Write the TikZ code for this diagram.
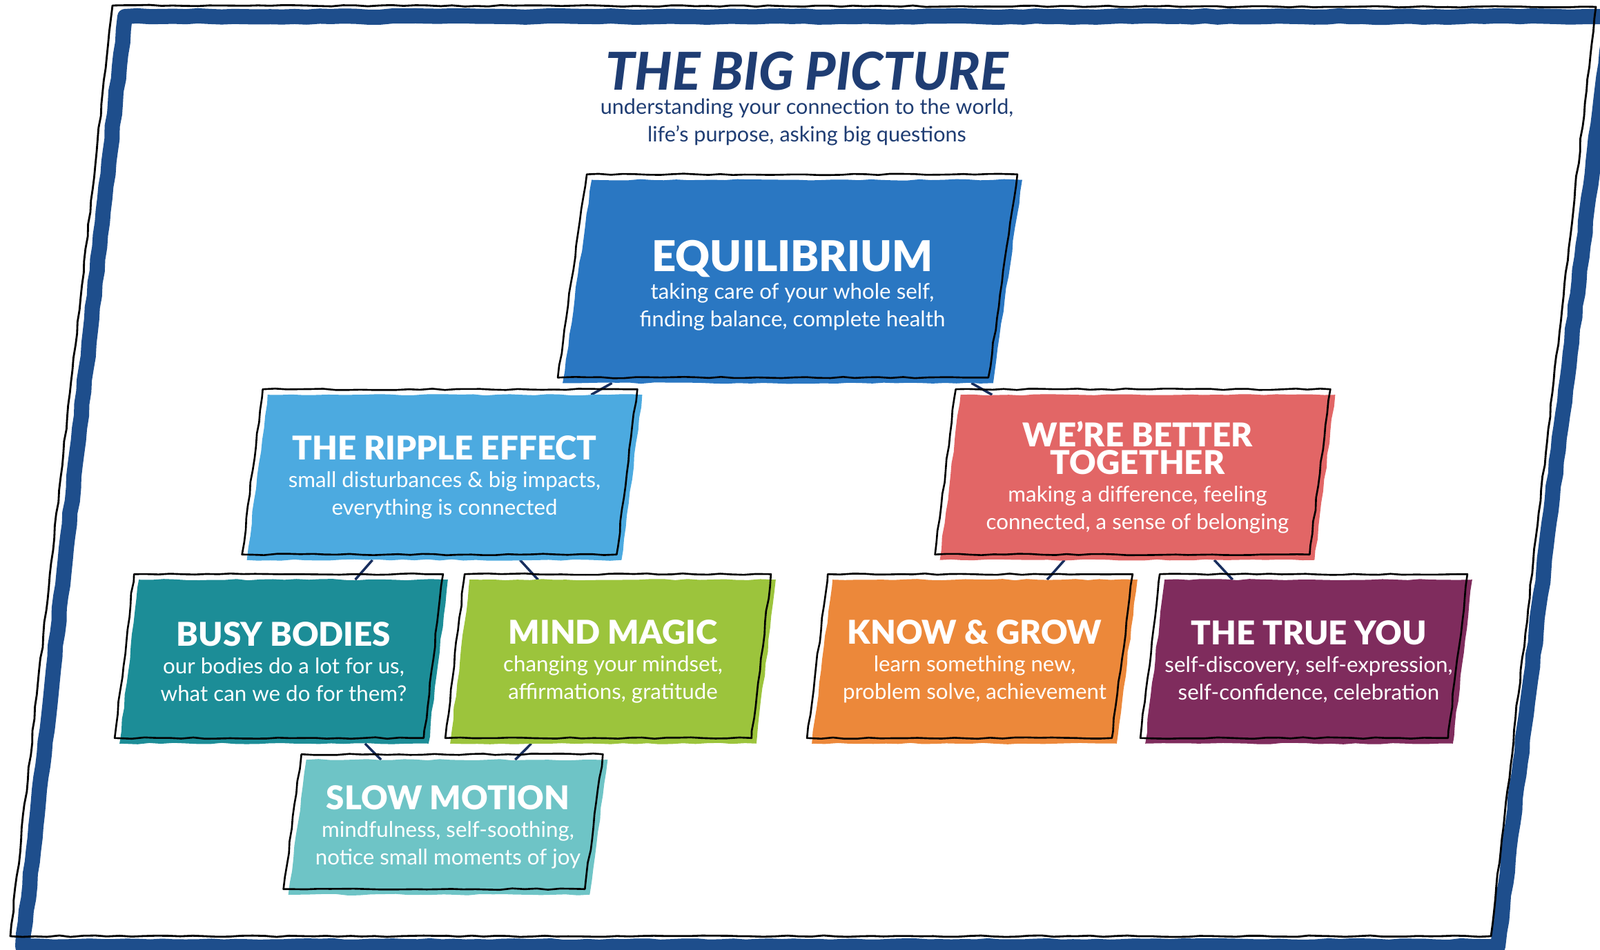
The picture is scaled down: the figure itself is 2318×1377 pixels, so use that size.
\documentclass[tikz,border=0pt]{standalone}
\usepackage{fontspec}
\setmainfont{Lato}
\newfontfamily\heavyfont{Lato Black}
\usetikzlibrary{positioning,backgrounds,decorations.pathmorphing}

\definecolor{framebl}{RGB}{30,78,140}
\definecolor{titlenavy}{RGB}{31,61,115}
\definecolor{linknavy}{RGB}{24,46,94}
\definecolor{eqblue}{RGB}{42,119,194}
\definecolor{ripblue}{RGB}{76,170,224}
\definecolor{wbtred}{RGB}{226,102,102}
\definecolor{bbteal}{RGB}{28,141,151}
\definecolor{mmgreen}{RGB}{156,196,60}
\definecolor{kgorange}{RGB}{236,136,58}
\definecolor{typlum}{RGB}{127,44,93}
\definecolor{smteal}{RGB}{110,196,198}

\newcommand{\headbig}{\fontsize{17.5}{18}\selectfont\heavyfont\rule{0pt}{16pt}}
\newcommand{\headsm}{\fontsize{13.5}{11.4}\selectfont\heavyfont}

\tikzset{
  rough/.style={decorate, decoration={random steps, segment length=5pt, amplitude=0.3pt}},
  card/.style={rectangle, inner sep=0pt, text=white, align=center, font=\fontsize{8.9}{11.4}\selectfont},
  inkline/.style={draw=black, line width=0.75pt, line join=round, rough},
  link/.style={draw=linknavy, line width=1pt}
}

\begin{document}
\begin{tikzpicture}[x=0.01cm, y=-0.01cm]
    \useasboundingbox (0,0) rectangle (2318,1377);
    \begin{scope}[on background layer]
        \fill[white] (0,0) rectangle (2318,1377);
    \end{scope}

    % Frame
    \draw[framebl, line width=0.22cm, line join=round, rough] (181,24) -- (2334,24) -- (2170,1372) -- (33,1372) -- cycle;
    \draw[black, line width=0.8pt, line join=round, rough] (163,8) -- (2312,10) -- (2160,1357) -- (15,1357) -- cycle;

    % Title
    \node[text=titlenavy, font=\fontsize{21.5}{21.5}\selectfont\heavyfont\itshape] (title) at (1169,103) {THE BIG PICTURE};
    \node[text=titlenavy, align=center, font=\fontsize{8.7}{11.4}\selectfont] (sub) at (1169,177)
        {understanding your connection to the world,\\life’s purpose, asking big questions};

    % Boxes
    \node[card, minimum width=6.22cm, minimum height=2.93cm] (eq) at (1148,408)
        {{\headbig EQUILIBRIUM}\\taking care of your whole self,\\finding balance, complete health};
    \node[card, minimum width=5.41cm, minimum height=2.38cm] (rip) at (644,692)
        {{\headsm THE RIPPLE EFFECT}\\small disturbances \& big impacts,\\everything is connected};
    \node[card, minimum width=5.41cm, minimum height=2.38cm] (wbt) at (1648,692)
        {{\headsm WE’RE BETTER}\\{\headsm TOGETHER}\\making a difference, feeling\\connected, a sense of belonging};
    \node[card, minimum width=4.46cm, minimum height=2.36cm] (bb) at (411,959)
        {{\headsm BUSY BODIES}\\our bodies do a lot for us,\\what can we do for them?};
    \node[card, minimum width=4.42cm, minimum height=2.36cm] (mm) at (888,959)
        {{\headsm MIND MAGIC}\\changing your mindset,\\affirmations, gratitude};
    \node[card, minimum width=4.40cm, minimum height=2.36cm] (kg) at (1412,959)
        {{\headsm KNOW \& GROW}\\learn something new,\\problem solve, achievement};
    \node[card, minimum width=4.44cm, minimum height=2.36cm] (ty) at (1896,959)
        {{\headsm THE TRUE YOU}\\self-discovery, self-expression,\\self-confidence, celebration};
    \node[card, minimum width=4.35cm, minimum height=1.94cm] (sm) at (649,1199)
        {{\headsm SLOW MOTION}\\mindfulness, self-soothing,\\notice small moments of joy};

    \begin{scope}[on background layer]
        % Connectors
        \draw[link] (eq) -- (rip);
        \draw[link] (eq) -- (wbt);
        \draw[link] (rip) -- (bb);
        \draw[link] (rip) -- (mm);
        \draw[link] (bb) -- (sm);
        \draw[link] (mm) -- (sm);
        \draw[link] (wbt) -- (kg);
        \draw[link] (wbt) -- (ty);

        % Slanted cards with offset outlines
        \foreach \n/\s/\col in {eq/21/eqblue, rip/15/ripblue, wbt/15/wbtred, bb/14/bbteal,
                                mm/14/mmgreen, kg/15/kgorange, ty/14/typlum, sm/13/smteal} {
            \fill[\col, rough] ([shift={(\s,0)}]\n.north west) -- ([shift={(\s,0)}]\n.north east)
                -- ([shift={(-\s,0)}]\n.south east) -- ([shift={(-\s,0)}]\n.south west) -- cycle;
            \draw[inkline] ([shift={(\s-7,-8)}]\n.north west) -- ([shift={(\s-7,-8)}]\n.north east)
                -- ([shift={(-\s-7,-8)}]\n.south east) -- ([shift={(-\s-7,-8)}]\n.south west) -- cycle;
        }
    \end{scope}
\end{tikzpicture}
\end{document}
